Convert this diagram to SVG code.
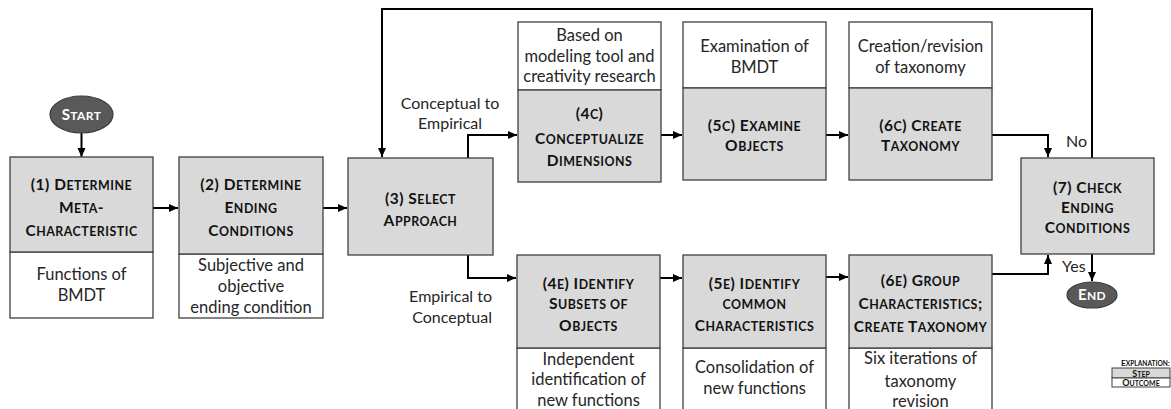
<svg xmlns="http://www.w3.org/2000/svg" width="1171" height="409" viewBox="0 0 1171 409">
<style>
.step{fill:#d9d9d9;stroke:#404040;stroke-width:1.3}
.out{fill:#ffffff;stroke:#404040;stroke-width:1.3}
.t{font-family:Lato,"Open Sans",sans-serif;font-weight:bold;font-size:12.4px;letter-spacing:0.5px;fill:#111111;text-anchor:middle}
.t .u{font-size:15.5px}
.o{font-family:Lato,"Open Sans",sans-serif;font-size:16.5px;fill:#262626;text-anchor:middle}
.lbl{font-family:Lato,"Open Sans",sans-serif;font-size:16px;fill:#262626}
.term{fill:#595959;stroke:#3a3a3a;stroke-width:1.2}
.tt{font-family:Lato,"Open Sans",sans-serif;font-weight:bold;font-size:12px;letter-spacing:0.4px;fill:#ffffff;text-anchor:middle}
.tt .u{font-size:15px}
.c{fill:none;stroke:#000;stroke-width:2}
.lg{font-family:Lato,"Open Sans",sans-serif;font-weight:bold;font-size:7px;fill:#111111;text-anchor:middle}
.lg .u{font-size:9px}
.lgh{font-family:Lato,"Open Sans",sans-serif;font-weight:bold;font-size:6.6px;fill:#111111;text-anchor:end}
.lgh .u{font-size:8.4px}
</style>
<defs>
<marker id="ah" markerWidth="10" markerHeight="10" refX="9" refY="5" orient="auto" markerUnits="userSpaceOnUse">
<path d="M0,1 L9,5 L0,9 Z" fill="#000"/>
</marker>
</defs>
<rect width="1171" height="409" fill="#ffffff"/>

<g id="connectors">
<path class="c" d="M81.5,133 V157" marker-end="url(#ah)"/>
<path class="c" d="M153,208 H178" marker-end="url(#ah)"/>
<path class="c" d="M323,208 H347" marker-end="url(#ah)"/>
<path class="c" d="M468,158 V135 H517" marker-end="url(#ah)"/>
<path class="c" d="M468,255 V278 H516" marker-end="url(#ah)"/>
<path class="c" d="M661,135 H682" marker-end="url(#ah)"/>
<path class="c" d="M826,135 H848" marker-end="url(#ah)"/>
<path class="c" d="M992,135 H1048 V157" marker-end="url(#ah)"/>
<path class="c" d="M660,278 H682" marker-end="url(#ah)"/>
<path class="c" d="M826,277 H848" marker-end="url(#ah)"/>
<path class="c" d="M992,274 H1048 V255" marker-end="url(#ah)"/>
<path class="c" d="M1092,158 V9 H382 V157" marker-end="url(#ah)"/>
<path class="c" d="M1092,254 V281" marker-end="url(#ah)"/>
<text class="lbl" x="450" y="109" text-anchor="middle">Conceptual to</text>
<text class="lbl" x="450" y="129" text-anchor="middle">Empirical</text>
<text class="lbl" x="492" y="302" text-anchor="end">Empirical to</text>
<text class="lbl" x="492" y="323" text-anchor="end">Conceptual</text>
<text class="lbl" x="1066" y="147">No</text>
<text class="lbl" x="1062" y="272">Yes</text>
</g>

<g id="start">
<ellipse class="term" cx="81.5" cy="114.5" rx="31.5" ry="18.5"/>
<text class="tt" x="81.5" y="120"><tspan class="u">S</tspan>TART</text>
</g>

<g id="step1">
<rect class="out" x="10" y="252" width="143" height="66"/>
<rect class="step" x="10" y="157" width="143" height="95"/>
<text class="t" x="81.5" y="190"><tspan class="u">(1) D</tspan>ETERMINE</text>
<text class="t" x="81.5" y="213"><tspan class="u">M</tspan>ETA<tspan class="u">-</tspan></text>
<text class="t" x="81.5" y="236"><tspan class="u">C</tspan>HARACTERISTIC</text>
<text class="o" x="81.5" y="280">Functions of</text>
<text class="o" x="81.5" y="301">BMDT</text>
</g>

<g id="step2">
<rect class="out" x="179" y="254" width="144" height="64"/>
<rect class="step" x="179" y="157" width="144" height="97"/>
<text class="t" x="251" y="190"><tspan class="u">(2) D</tspan>ETERMINE</text>
<text class="t" x="251" y="213"><tspan class="u">E</tspan>NDING</text>
<text class="t" x="251" y="236"><tspan class="u">C</tspan>ONDITIONS</text>
<text class="o" x="251" y="271">Subjective and</text>
<text class="o" x="251" y="292">objective</text>
<text class="o" x="251" y="313">ending condition</text>
</g>

<g id="step3">
<rect class="step" x="348" y="158" width="145" height="97"/>
<text class="t" x="420.5" y="204"><tspan class="u">(3) S</tspan>ELECT</text>
<text class="t" x="420.5" y="226"><tspan class="u">A</tspan>PPROACH</text>
</g>

<g id="step4c">
<rect class="out" x="518" y="22" width="143" height="68"/>
<rect class="step" x="518" y="90" width="143" height="92"/>
<text class="o" x="589.5" y="41">Based on</text>
<text class="o" x="589.5" y="62">modeling tool and</text>
<text class="o" x="589.5" y="82">creativity research</text>
<text class="t" x="589.5" y="119"><tspan class="u">(4</tspan>C<tspan class="u">)</tspan></text>
<text class="t" x="589.5" y="144"><tspan class="u">C</tspan>ONCEPTUALIZE</text>
<text class="t" x="589.5" y="166"><tspan class="u">D</tspan>IMENSIONS</text>
</g>

<g id="step5c">
<rect class="out" x="683" y="22" width="143" height="66"/>
<rect class="step" x="683" y="88" width="143" height="92"/>
<text class="o" x="754.5" y="52">Examination of</text>
<text class="o" x="754.5" y="73">BMDT</text>
<text class="t" x="754.5" y="131"><tspan class="u">(5</tspan>C<tspan class="u">) E</tspan>XAMINE</text>
<text class="t" x="754.5" y="151"><tspan class="u">O</tspan>BJECTS</text>
</g>

<g id="step6c">
<rect class="out" x="849" y="22" width="143" height="66"/>
<rect class="step" x="849" y="88" width="143" height="92"/>
<text class="o" x="920.5" y="52">Creation/revision</text>
<text class="o" x="920.5" y="73">of taxonomy</text>
<text class="t" x="920.5" y="131"><tspan class="u">(6</tspan>C<tspan class="u">) C</tspan>REATE</text>
<text class="t" x="920.5" y="151"><tspan class="u">T</tspan>AXONOMY</text>
</g>

<g id="step7">
<rect class="step" x="1021" y="158" width="133" height="96"/>
<text class="t" x="1087.5" y="193"><tspan class="u">(7) C</tspan>HECK</text>
<text class="t" x="1087.5" y="213"><tspan class="u">E</tspan>NDING</text>
<text class="t" x="1087.5" y="233"><tspan class="u">C</tspan>ONDITIONS</text>
</g>

<g id="end">
<ellipse class="term" cx="1092" cy="295" rx="25" ry="13"/>
<text class="tt" x="1092" y="300"><tspan class="u">E</tspan>ND</text>
</g>

<g id="step4e">
<rect class="out" x="517" y="348" width="143" height="75"/>
<rect class="step" x="517" y="255" width="143" height="93"/>
<text class="t" x="588.5" y="289"><tspan class="u">(4</tspan>E<tspan class="u">) I</tspan>DENTIFY</text>
<text class="t" x="588.5" y="309"><tspan class="u">S</tspan>UBSETS OF</text>
<text class="t" x="588.5" y="331"><tspan class="u">O</tspan>BJECTS</text>
<text class="o" x="588.5" y="365">Independent</text>
<text class="o" x="588.5" y="385">identification of</text>
<text class="o" x="588.5" y="406">new functions</text>
</g>

<g id="step5e">
<rect class="out" x="683" y="348" width="143" height="75"/>
<rect class="step" x="683" y="255" width="143" height="93"/>
<text class="t" x="754.5" y="289"><tspan class="u">(5</tspan>E<tspan class="u">) I</tspan>DENTIFY</text>
<text class="t" x="754.5" y="309">COMMON</text>
<text class="t" x="754.5" y="331"><tspan class="u">C</tspan>HARACTERISTICS</text>
<text class="o" x="754.5" y="373">Consolidation of</text>
<text class="o" x="754.5" y="394">new functions</text>
</g>

<g id="step6e">
<rect class="out" x="849" y="348" width="143" height="75"/>
<rect class="step" x="849" y="255" width="143" height="93"/>
<text class="t" x="920.5" y="286"><tspan class="u">(6</tspan>E<tspan class="u">) G</tspan>ROUP</text>
<text class="t" x="920.5" y="309"><tspan class="u">C</tspan>HARACTERISTICS<tspan class="u">;</tspan></text>
<text class="t" x="920.5" y="332"><tspan class="u">C</tspan>REATE <tspan class="u">T</tspan>AXONOMY</text>
<text class="o" x="920.5" y="364">Six iterations of</text>
<text class="o" x="920.5" y="387">taxonomy</text>
<text class="o" x="920.5" y="407">revision</text>
</g>

<g id="legend">
<text class="lgh" x="1170" y="366"><tspan class="u">E</tspan>XPLANATION<tspan class="u">:</tspan></text>
<rect x="1112" y="368" width="58" height="10" fill="#d9d9d9" stroke="#404040" stroke-width="1"/>
<rect x="1112" y="378" width="58" height="9" fill="#ffffff" stroke="#404040" stroke-width="1"/>
<text class="lg" x="1141" y="376.5"><tspan class="u">S</tspan>TEP</text>
<text class="lg" x="1141" y="386"><tspan class="u">O</tspan>UTCOME</text>
</g>
</svg>
